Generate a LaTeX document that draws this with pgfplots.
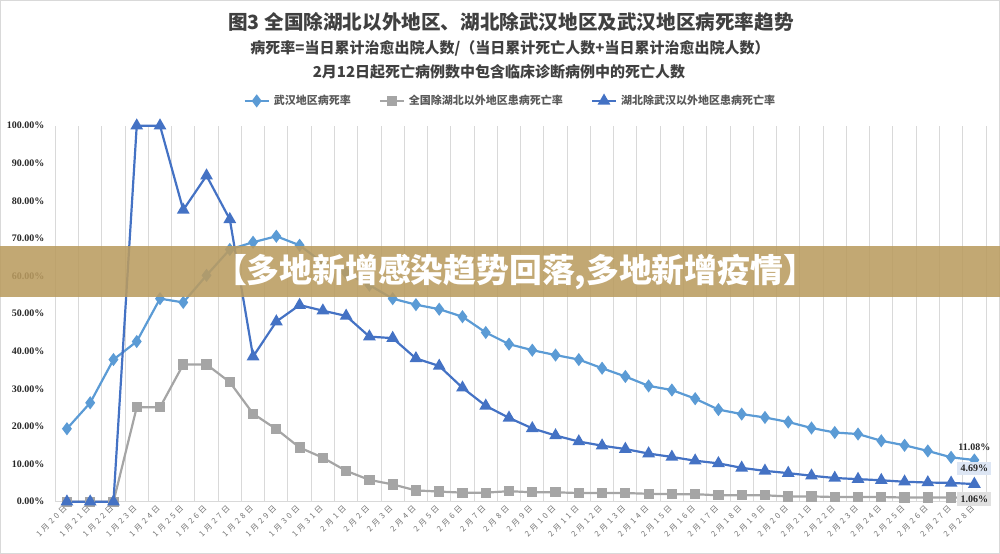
\documentclass[border=0pt]{standalone}
\usepackage{pgfplots}
\pgfplotsset{compat=1.18}
\usepackage{fontspec}
\setmainfont{Noto Sans CJK SC}
\newfontfamily\numfont{Liberation Serif}
\newfontfamily\tickfont[LetterSpace=35]{Noto Sans CJK SC}
\definecolor{cWuhan}{HTML}{5B9BD5}
\definecolor{cGray}{HTML}{A5A5A5}
\definecolor{cBlue}{HTML}{4472C4}
\definecolor{cGrid}{HTML}{D9D9D9}
\definecolor{cBanner}{RGB}{186,156,96}
\definecolor{cTxt}{HTML}{404040}
\pgfplotstableread{
x wuhan gray blue
0 19.4 0 0
1 26.3 0 0
2 37.8 0 0
3 42.6 25.1 100
4 54.0 25.1 100
5 53.0 36.5 77.6
6 60.2 36.5 86.7
7 67.1 31.8 75.1
8 69.0 23.4 38.6
9 70.6 19.3 47.9
10 68.2 14.4 52.3
11 63.5 11.7 50.8
12 60.8 8.2 49.4
13 57.6 5.8 43.9
14 54.0 4.6 43.5
15 52.4 3.0 38.1
16 51.2 2.7 36.1
17 49.2 2.4 30.3
18 45.0 2.4 25.5
19 41.9 2.8 22.3
20 40.3 2.5 19.5
21 39.0 2.5 17.6
22 37.8 2.3 16.0
23 35.5 2.3 14.9
24 33.3 2.3 14.0
25 30.8 2.1 12.8
26 29.7 2.0 11.9
27 27.4 2.0 10.9
28 24.5 1.7 10.2
29 23.3 1.7 9.0
30 22.4 1.7 8.2
31 21.2 1.4 7.6
32 19.6 1.4 6.9
33 18.4 1.25 6.3
34 18.0 1.25 6.0
35 16.2 1.25 5.7
36 15.0 1.1 5.3
37 13.5 1.1 5.1
38 11.8 1.1 5.0
39 11.08 1.06 4.69
}\datatable
\begin{document}
\begin{tikzpicture}
\useasboundingbox (0,0) rectangle (500bp,277bp);
\draw[cGrid, line width=0.5bp] (0.25bp,0.25bp) rectangle (499.75bp,276.75bp);
\begin{axis}[
  at={(27.65bp,26.15bp)}, anchor=south west,
  scale only axis, width=465.35bp, height=188bp,
  xmin=-0.5, xmax=39.5, ymin=0, ymax=100,
  clip=false,
  axis line style={draw=none},
  xtick={0,...,39},
  xticklabels={1月20日,1月21日,1月22日,1月23日,1月24日,1月25日,1月26日,1月27日,1月28日,1月29日,1月30日,1月31日,2月1日,2月2日,2月3日,2月4日,2月5日,2月6日,2月7日,2月8日,2月9日,2月10日,2月11日,2月12日,2月13日,2月14日,2月15日,2月16日,2月17日,2月18日,2月19日,2月20日,2月21日,2月22日,2月23日,2月24日,2月25日,2月26日,2月27日,2月28日},
  minor xtick={-0.5,0.5,...,39.5},
  xminorgrids, minor grid style={cGrid, line width=0.5bp},
  major tick length=0pt, minor tick length=0pt,
  xticklabel style={rotate=45, anchor=east, font=\fontsize{3.9bp}{4.5bp}\selectfont\tickfont, text=black!55, yshift=-1.5bp, xshift=1bp},
  ytick={0,10,...,100},
  /pgf/number format/assume math mode=true,
  yticklabel={\pgfmathprintnumber[fixed,fixed zerofill,precision=2]{\tick}\%},
  yticklabel style={font=\fontsize{5bp}{6bp}\selectfont\numfont\bfseries, text=black!85, xshift=-2bp},
  legend columns=3,
  legend style={at={(0.49,1.066)}, anchor=center, draw=none, fill=none,
    font=\fontsize{5.5bp}{6.5bp}\selectfont\bfseries, text=black!65,
    /tikz/every even column/.append style={column sep=12bp}},
  legend image code/.code={\draw[mark repeat=2,mark phase=2,#1] plot coordinates {(0bp,0bp) (6bp,0bp) (12bp,0bp)};},
]
\draw[cGrid, line width=0.6bp] (axis cs:-0.5,0) -- (axis cs:39.5,0);
\addplot[color=cWuhan, line width=1.1bp, mark=diamond*, mark size=2.4bp, mark options={solid}] table[x=x,y=wuhan]{\datatable};
\addlegendentry{武汉地区病死率}
\addplot[color=cGray, line width=1.1bp, mark=square*, mark size=2bp] table[x=x,y=gray]{\datatable};
\addlegendentry{全国除湖北以外地区患病死亡率}
\addplot[color=cBlue, line width=1.1bp, mark=triangle*, mark size=2.6bp] table[x=x,y=blue]{\datatable};
\addlegendentry{湖北除武汉以外地区患病死亡率}
\coordinate (pW) at (axis cs:39,11.08);
\coordinate (pB) at (axis cs:39,4.69);
\coordinate (pG) at (axis cs:39,1.06);
\end{axis}
\node[anchor=south, font=\fontsize{5bp}{6bp}\selectfont\numfont\bfseries, text=black!85, inner sep=1bp, yshift=3.5bp] at (pW) {11.08\%};
\node[anchor=south, fill=cBlue!18, font=\fontsize{5bp}{6bp}\selectfont\numfont\bfseries, text=black!85, inner sep=1.6bp, yshift=4.3bp] at (pB) {4.69\%};
\node[anchor=center, fill=black!12, font=\fontsize{5bp}{6bp}\selectfont\numfont\bfseries, text=black!85, inner sep=1.6bp, yshift=-0.6bp, minimum width=15.5bp] at (pG) {1.06\%};
\begin{scope}[x=0.5bp,y=0.5bp]
\node[font=\fontsize{9.8bp}{11bp}\selectfont\bfseries, text=cTxt] at (511,532) {图3 全国除湖北以外地区、湖北除武汉地区及武汉地区病死率趋势};
\node[font=\fontsize{7.5bp}{9bp}\selectfont\bfseries, text=cTxt] at (510,506) {病死率=当日累计治愈出院人数/（当日累计死亡人数+当日累计治愈出院人数）};
\node[font=\fontsize{7.5bp}{9bp}\selectfont\bfseries, text=cTxt] at (499,482) {2月12日起死亡病例数中包含临床诊断病例中的死亡人数};
\fill[cBanner, fill opacity=0.88] (0,257) rectangle (1000,308);
\node[font=\fontsize{16.4bp}{18bp}\selectfont\bfseries, text=white] at (515,282) {【多地新增感染趋势回落,多地新增疫情】};
\end{scope}
\end{tikzpicture}
\end{document}
